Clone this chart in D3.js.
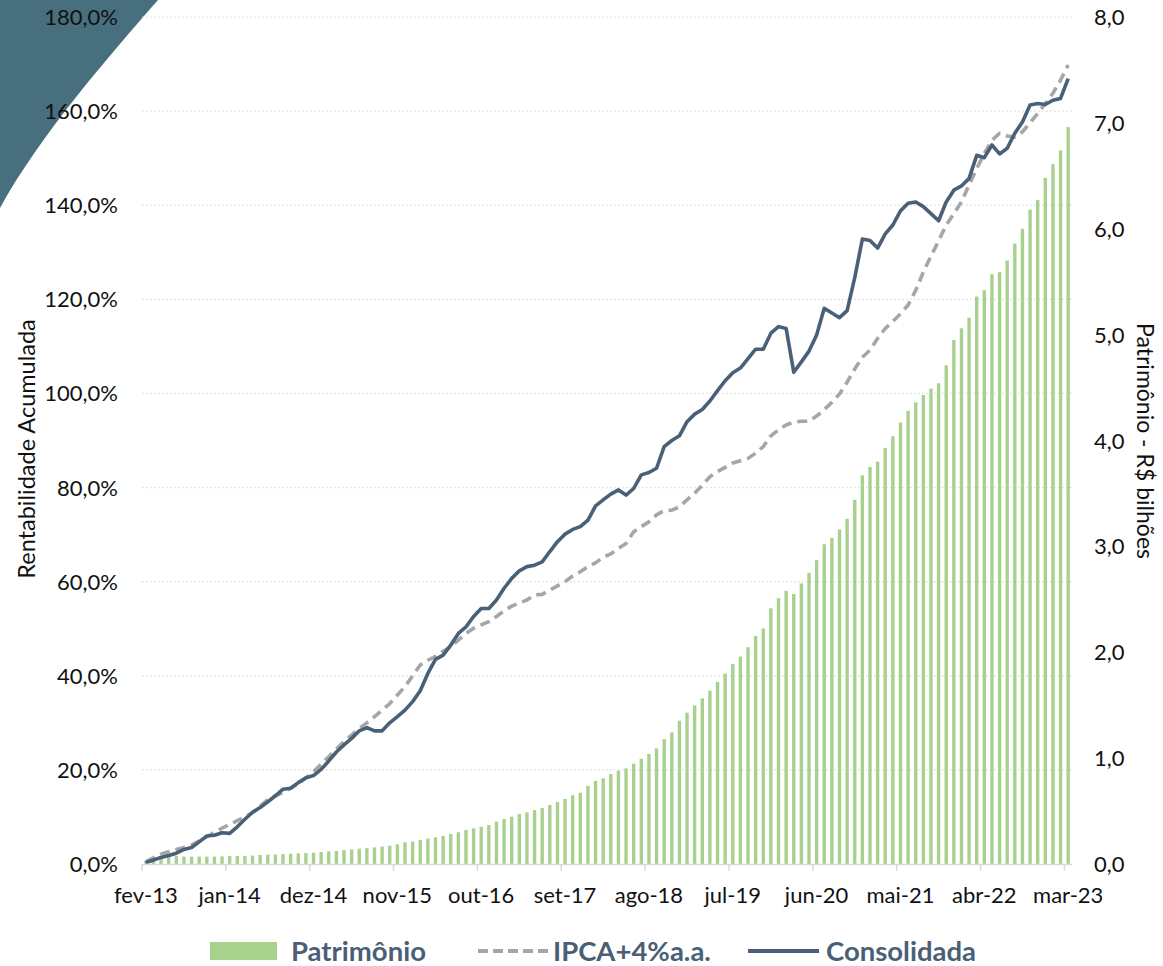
<!DOCTYPE html>
<html>
<head>
<meta charset="utf-8">
<script src="https://cdn.jsdelivr.net/npm/d3@7"></script>
<style>
  html, body { margin: 0; padding: 0; background: #ffffff; }
  svg { display: block; }
  text { font-family: Lato, "Open Sans", sans-serif; }
</style>
</head>
<body>
<svg id="chart" width="1163" height="966"></svg>
<script>
// ---------- DATA ----------
const monthNames = ["jan","fev","mar","abr","mai","jun","jul","ago","set","out","nov","dez"];
const startYear = 2013, startMonth = 1, nMonths = 122; // fev-13 .. mar-23
const categories = [];
for (let i = 0; i < nMonths; i++) {
  const m = (startMonth + i) % 12;
  const y = startYear + Math.floor((startMonth + i) / 12);
  categories.push(monthNames[m] + "-" + String(y).slice(2));
}
const tickLabels = ["fev-13","jan-14","dez-14","nov-15","out-16","set-17","ago-18","jul-19","jun-20","mai-21","abr-22","mar-23"];

// Patrimônio (R$ bilhões) - bars, right axis
const patrimonio = [
  0.03,0.045,0.055,0.065,0.076,0.07,0.07,0.07,0.07,0.07,
  0.072,0.075,0.076,0.077,0.08,0.085,0.088,0.09,0.094,0.097,
  0.10,0.103,0.107,0.113,0.12,0.123,0.132,0.138,0.145,0.15,
  0.157,0.165,0.173,0.186,0.205,0.212,0.227,0.24,0.252,0.265,
  0.283,0.30,0.321,0.337,0.352,0.368,0.40,0.425,0.447,0.472,
  0.488,0.51,0.53,0.557,0.585,0.614,0.649,0.673,0.737,0.784,
  0.809,0.85,0.881,0.903,0.947,0.994,1.039,1.092,1.18,1.243,
  1.353,1.429,1.498,1.564,1.637,1.719,1.80,1.889,1.959,2.048,
  2.154,2.224,2.415,2.51,2.58,2.55,2.65,2.75,2.87,3.02,
  3.08,3.16,3.26,3.44,3.67,3.75,3.80,3.93,4.04,4.17,
  4.28,4.36,4.43,4.49,4.54,4.71,4.95,5.06,5.16,5.36,
  5.42,5.57,5.59,5.70,5.86,6.00,6.18,6.27,6.48,6.61,
  6.74,6.96
];
// IPCA+4% a.a. (% acumulado)
const ipca = [
  0.5,1.3,2.1,2.6,3.1,3.5,4.0,4.9,5.8,6.7,
  7.6,8.4,9.2,10.0,10.9,12.3,13.7,14.5,15.2,16.1,
  17.1,18.3,19.6,21.2,22.8,24.4,26.0,27.4,28.8,30.0,
  31.3,32.7,34.1,35.9,37.7,40.0,42.3,43.3,44.1,45.2,
  46.2,47.6,49.0,50.1,50.8,51.5,52.6,53.8,54.8,55.5,
  56.1,57.2,57.3,58.2,59.1,60.0,61.2,62.1,63.2,64.0,
  65.2,65.9,67.1,68.1,70.6,71.7,72.7,74.2,75.1,75.2,
  75.9,77.4,78.8,80.5,82.3,83.4,84.3,85.2,85.7,86.2,
  87.3,88.7,91.0,92.3,93.3,93.9,94.1,94.1,95.2,96.6,
  98.1,99.9,102.4,105.2,107.7,109.2,111.7,113.8,115.3,116.9,
  118.8,121.9,125.8,129.2,132.4,135.8,138.2,140.7,144.3,147.8,
  151.0,153.8,155.3,154.7,154.5,155.6,157.5,159.5,161.6,163.8,
  166.6,169.8
];
// Consolidada (% acumulado)
const consolidada = [
  0.3,0.85,1.4,1.8,2.3,3.1,3.5,4.7,5.95,6.1,
  6.65,6.5,7.9,9.5,11.0,12.0,13.2,14.5,15.9,16.1,
  17.3,18.3,18.8,20.1,21.9,23.8,25.3,26.7,28.3,29.0,
  28.3,28.3,30.0,31.3,32.7,34.5,36.8,40.5,43.5,44.4,
  46.5,49.0,50.4,52.6,54.3,54.3,56.1,58.6,60.7,62.3,
  63.2,63.5,64.2,66.4,68.5,70.1,71.1,71.7,73.1,76.1,
  77.4,78.6,79.5,78.4,79.8,82.7,83.2,84.1,88.7,90.0,
  91.0,94.0,95.6,96.6,98.4,100.6,102.7,104.4,105.4,107.4,
  109.4,109.4,112.8,114.2,113.8,104.5,106.7,109.0,112.4,118.1,
  117.1,116.1,117.6,124.6,132.8,132.5,130.9,133.9,135.8,138.8,
  140.4,140.7,139.7,138.2,136.7,140.7,143.2,144.1,145.7,150.6,
  150.1,152.8,150.9,152.1,155.3,157.7,161.3,161.6,161.4,162.3,
  162.7,166.9
];
const leftTicks = [0,20,40,60,80,100,120,140,160,180];
const rightTicks = [0,1,2,3,4,5,6,7,8];
const legendItems = ["Patrimônio","IPCA+4%a.a.","Consolidada"];

// ---------- CHART ----------
const svg = d3.select("#chart");
const plot = { left: 142, right: 1072, top: 17, bottom: 864 };
const C = { bar: "#a9d18e", ipca: "#a6a6a6", cons: "#4a6079", grid: "#d9d9d9", legend: "#4a5f76", deco: "#476f7d", text: "#111111" };

// decorative corner shape
svg.append("path")
  .attr("d", "M0,0 L158,0 C110,55 40,135 0,208 Z")
  .attr("fill", C.deco);

const x = d3.scaleBand().domain(d3.range(nMonths)).range([plot.left, plot.right]).paddingInner(0).paddingOuter(0);
const yL = d3.scaleLinear().domain([0, 180]).range([plot.bottom, plot.top]);
const yR = d3.scaleLinear().domain([0, 8]).range([plot.bottom, plot.top]);

// gridlines
svg.append("g").selectAll("line").data(leftTicks.slice(1)).join("line")
  .attr("x1", plot.left).attr("x2", plot.right)
  .attr("y1", d => yL(d)).attr("y2", d => yL(d))
  .attr("stroke", C.grid).attr("stroke-width", 1.2).attr("stroke-dasharray", "1.5,2.5");

// bars
const bw = 3.4;
svg.append("g").selectAll("rect").data(patrimonio).join("rect")
  .attr("x", (d, i) => x(i) + x.bandwidth() / 2 - bw / 2)
  .attr("width", bw)
  .attr("y", d => yR(d))
  .attr("height", d => yR(0) - yR(d))
  .attr("fill", C.bar);

// lines
const cx = i => x(i) + x.bandwidth() / 2;
const lineGen = d3.line().x((d, i) => cx(i)).y(d => yL(d));
svg.append("path").datum(ipca)
  .attr("d", lineGen).attr("fill", "none")
  .attr("stroke", C.ipca).attr("stroke-width", 3.6)
  .attr("stroke-dasharray", "10,6").attr("stroke-linejoin", "round");
svg.append("path").datum(consolidada)
  .attr("d", lineGen).attr("fill", "none")
  .attr("stroke", C.cons).attr("stroke-width", 3.6)
  .attr("stroke-linejoin", "round");

// x axis
const tickIdx = d3.range(0, nMonths, 11);
const xAxis = svg.append("g").attr("transform", `translate(0,${plot.bottom})`);
xAxis.append("line").attr("x1", plot.left).attr("x2", plot.right)
  .attr("y1", 0.5).attr("y2", 0.5).attr("stroke", C.grid).attr("stroke-width", 1.5);
xAxis.selectAll("line.tk").data(tickIdx).join("line").attr("class", "tk")
  .attr("x1", i => x(i)).attr("x2", i => x(i)).attr("y1", 0).attr("y2", 7)
  .attr("stroke", C.grid).attr("stroke-width", 1.5);
xAxis.selectAll("text").data(tickIdx).join("text")
  .attr("x", i => cx(i)).attr("y", 39)
  .attr("text-anchor", "middle").attr("font-size", 22).attr("fill", C.text)
  .text((i, k) => tickLabels[k]);

// left axis labels
svg.append("g").selectAll("text").data(leftTicks).join("text")
  .attr("x", 118).attr("y", d => yL(d) + 8)
  .attr("text-anchor", "end").attr("font-size", 22).attr("fill", C.text)
  .text(d => d3.format(".1f")(d).replace(".", ",") + "%");

// right axis labels
svg.append("g").selectAll("text").data(rightTicks).join("text")
  .attr("x", 1094).attr("y", d => yR(d) + 8)
  .attr("text-anchor", "start").attr("font-size", 22).attr("fill", C.text)
  .text(d => d3.format(".1f")(d).replace(".", ","));

// axis titles
svg.append("text").attr("transform", "translate(35,449) rotate(-90)")
  .attr("text-anchor", "middle").attr("font-size", 23.5).attr("fill", C.text)
  .text("Rentabilidade Acumulada");
svg.append("text").attr("transform", "translate(1137,441) rotate(90)")
  .attr("text-anchor", "middle").attr("font-size", 23).attr("fill", C.text)
  .text("Patrimônio - R$ bilhões");

// legend
const lg = svg.append("g");
const lfs = 27.5;
lg.append("rect").attr("x", 210).attr("y", 942).attr("width", 67).attr("height", 18).attr("fill", C.bar);
lg.append("text").attr("x", 291).attr("y", 961).attr("font-size", lfs).attr("font-weight", "bold")
  .attr("fill", C.legend).text(legendItems[0]);
lg.append("line").attr("x1", 478).attr("x2", 550).attr("y1", 951).attr("y2", 951)
  .attr("stroke", C.ipca).attr("stroke-width", 4).attr("stroke-dasharray", "10,5");
lg.append("text").attr("x", 553).attr("y", 961).attr("font-size", lfs).attr("font-weight", "bold")
  .attr("fill", C.legend).text(legendItems[1]);
lg.append("line").attr("x1", 748).attr("x2", 819).attr("y1", 951).attr("y2", 951)
  .attr("stroke", C.cons).attr("stroke-width", 4);
lg.append("text").attr("x", 826).attr("y", 961).attr("font-size", lfs).attr("font-weight", "bold")
  .attr("fill", C.legend).text(legendItems[2]);
</script>
</body>
</html>
